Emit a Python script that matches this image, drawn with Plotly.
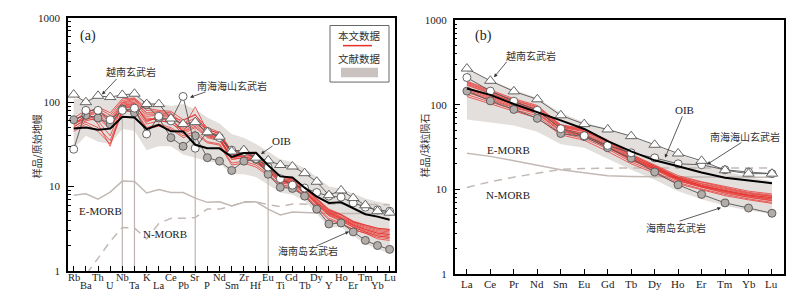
import math
import plotly.graph_objects as go

W, H = 800, 290

# ---------------- Panel (a): primitive-mantle normalised spider diagram ----------------
elems_a = ["Rb", "Ba", "Th", "U", "Nb", "Ta", "K", "La", "Ce", "Pb", "Sr", "P", "Nd", "Sm",
           "Zr", "Hf", "Eu", "Ti", "Gd", "Tb", "Dy", "Y", "Ho", "Er", "Tm", "Yb", "Lu"]

oib_a = [48.8, 50.1, 47.1, 48.6, 67.3, 65.9, 48.0, 53.9, 45.1, 45.0, 31.3, 28.4, 28.4, 22.5,
         25.0, 25.2, 17.9, 13.2, 12.8, 9.7, 7.6, 6.4, 6.5, 5.5, 4.7, 4.4, 4.05]
emorb_a = [7.9, 8.2, 7.1, 8.6, 11.6, 11.5, 8.4, 9.2, 8.5, 8.5, 7.3, 6.5, 6.6, 5.9,
           6.5, 6.6, 5.4, 4.6, 5.0, 4.9, 4.8, 4.8, 4.8, 4.8, 4.8, 4.8, 4.8]
nmorb_a = [0.88, 0.90, 1.41, 2.24, 3.27, 3.22, 2.4, 3.64, 4.2, 4.2, 4.3, 5.4, 5.4, 5.9,
           6.6, 6.6, 6.1, 5.8, 6.2, 6.2, 6.2, 6.2, 6.2, 6.2, 6.2, 6.2, 6.1]
vietnam_a = [123, 100, 119, 115, 122, 126, 95, 95, 64, 55, 58, 44, 39, 26,
             27, 22, 20.4, 18, 17.3, 14.4, 11.4, 7.9, 9.0, 7.3, 6.0, 5.1, 4.9]
scs_a = [27.7, 80, 80, 62, 80, 85, 42, 68, 60, 117, 28.5, 45, 38, 27,
         26, 21.5, 17, 12.4, 10.4, 9.6, 8.5, 7.7, 7.5, 6.4, 5.7, 5.3, 5.1]
hainan_a = [62, 70, 65, 55, 83, 75, 93, 65, 38, 30, 40, 22, 20, 15.5,
            20, 21, 14, 9.8, 9.5, 7.7, 5.4, 3.6, 3.7, 2.9, 2.3, 2.0, 1.8]
env_hi_a = [110, 108, 112, 105, 115, 122, 100, 97, 90, 95, 82, 66, 56, 42,
            38, 32, 26, 21, 19.5, 16.5, 13, 10, 9.5, 8.2, 7.2, 6.6, 6.2]
env_lo_a = [28, 40, 34, 32, 48, 46, 27, 30, 30, 24, 22, 20, 19, 14,
            14, 13, 10.5, 8.5, 8.0, 6.8, 4.8, 3.3, 3.3, 2.6, 2.1, 1.8, 1.6]
red_a = [
    [60, 75, 85, 70, 105, 110, 80, 78, 75, 55, 65, 48, 42, 25, 26, 22, 17, 12.5, 12, 9.5, 7.0, 5.2, 4.6, 3.8, 3.4, 3.1, 3.0],
    [55, 70, 78, 60, 98, 104, 72, 72, 70, 50, 88, 45, 40, 24, 25, 21, 16, 12, 11.5, 9.0, 6.6, 5.0, 4.3, 3.6, 3.2, 2.9, 2.8],
    [50, 65, 60, 40, 90, 95, 60, 65, 62, 45, 55, 40, 37, 22, 23, 20, 15.5, 11.5, 11, 8.6, 6.3, 4.7, 4.1, 3.4, 3.0, 2.7, 2.6],
    [65, 80, 55, 30, 85, 88, 55, 60, 58, 42, 50, 38, 35, 21, 22, 19, 15, 11, 10.5, 8.3, 6.1, 4.5, 3.9, 3.3, 2.9, 2.6, 2.5],
    [58, 62, 70, 55, 95, 100, 68, 70, 68, 60, 72, 44, 41, 24, 25, 21.5, 16.5, 12.2, 11.8, 9.2, 6.8, 5.1, 4.4, 3.7, 3.3, 3.0, 2.9],
    [48, 58, 50, 35, 80, 82, 50, 55, 50, 40, 45, 34, 32, 19, 20, 18, 14, 10.5, 10, 8.0, 5.8, 4.2, 3.7, 3.1, 2.8, 2.5, 2.4],
    [62, 72, 80, 65, 100, 108, 75, 75, 72, 52, 60, 47, 43, 26, 27, 23, 17.5, 13, 12.3, 9.6, 7.1, 5.3, 4.6, 3.8, 3.5, 3.2, 3.1],
    [52, 60, 65, 48, 88, 92, 62, 64, 60, 48, 58, 42, 38, 22, 23, 20, 15.8, 11.6, 11.2, 8.8, 6.4, 4.8, 4.2, 3.5, 3.1, 2.8, 2.7],
    [56, 68, 75, 58, 92, 97, 58, 68, 66, 44, 52, 39, 36, 21, 22, 19.5, 15.2, 11.2, 10.8, 8.5, 6.2, 4.6, 4.0, 3.3, 2.9, 2.6, 2.5],
    [45, 55, 45, 32, 76, 80, 48, 52, 48, 38, 42, 33, 31, 18, 19, 17, 13.5, 10, 9.8, 7.8, 5.6, 4.0, 3.6, 3.1, 2.8, 2.4, 2.3],
    [60, 72, 88, 75, 110, 112, 85, 80, 78, 62, 70, 50, 44, 26, 27, 24, 18, 13, 12.5, 9.8, 7.2, 5.4, 4.7, 3.9, 3.5, 3.2, 3.1],
    [54, 66, 68, 50, 86, 90, 65, 62, 56, 46, 62, 41, 37, 22, 24, 20.5, 16, 11.8, 11.3, 8.9, 6.5, 4.9, 4.2, 3.5, 3.1, 2.8, 2.7],
]
anom_elems = ["Nb", "Ta", "Sr", "Eu"]
anom_tops = [80, 80, 60, 16]

# ---------------- Panel (b): chondrite-normalised REE ----------------
elems_b = ["La", "Ce", "Pr", "Nd", "Sm", "Eu", "Gd", "Tb", "Dy", "Ho", "Er", "Tm", "Yb", "Lu"]
oib_b = [156, 131, 102, 82.4, 65.4, 51.7, 37.1, 28.1, 22.0, 18.7, 15.8, 13.7, 12.7, 11.8]
emorb_b = [26.6, 24.5, 21.8, 19.3, 17.0, 15.7, 14.5, 14.2, 14.0, 14.0, 14.0, 14.0, 13.9, 13.9]
nmorb_b = [10.5, 12.3, 13.9, 15.6, 17.2, 17.6, 17.9, 17.9, 17.9, 17.8, 17.9, 17.9, 17.9, 17.9]
vietnam_b = [268, 192, 144, 116, 75, 59, 51, 42.5, 33.6, 26.5, 21.7, 16.8, 15.3, 15.3]
scs_b = [210, 145, 110, 86, 52, 43, 33, 27, 23.5, 20, 19.5, 17, 16, 15.3]
hainan_b = [145, 111, 88, 69, 45.7, 42, 31, 23.3, 16, 11.3, 8.7, 6.9, 6.0, 5.2]
env_hi_b = [262, 195, 150, 120, 80, 62, 52, 42, 33, 26, 21, 16.5, 14, 12.5]
env_lo_b = [67, 62, 57, 48, 34, 31, 23, 17, 13, 9.5, 7.6, 6.4, 5.6, 5.1]
red_b = [
    [190, 150, 118, 98, 58, 52, 38, 26, 19.5, 14.5, 12.3, 10.8, 9.5, 8.8],
    [180, 142, 112, 93, 56, 50, 37, 25, 19, 14, 12, 10.5, 9.2, 8.5],
    [170, 135, 108, 90, 54, 48, 35, 24, 18.5, 13.7, 11.5, 10, 8.8, 8.2],
    [160, 128, 102, 86, 52, 46, 34, 23.5, 18, 13.3, 11.2, 9.7, 8.6, 7.9],
    [150, 120, 97, 82, 50, 44, 32, 22.5, 17.5, 13, 10.8, 9.4, 8.3, 7.6],
    [140, 114, 92, 78, 48, 42, 31, 22, 17, 12.5, 10.5, 9.0, 8.0, 7.3],
    [132, 108, 88, 74, 46, 40, 30, 21, 16.2, 12, 10.1, 8.7, 7.7, 7.0],
    [125, 102, 84, 70, 44, 38, 28, 20, 15.5, 11.6, 9.8, 8.4, 7.5, 6.8],
    [175, 138, 106, 88, 55, 49, 36, 24.5, 18, 13.5, 11, 9.6, 8.5, 8.0],
    [155, 124, 100, 84, 53, 45, 33, 23, 17.8, 13.2, 11, 9.5, 8.4, 7.7],
    [145, 117, 94, 80, 49, 43, 32, 22.2, 17.3, 12.8, 10.6, 9.2, 8.1, 7.4],
    [185, 146, 114, 95, 57, 51, 37.5, 25.5, 18.8, 13.8, 11.7, 10.2, 9.0, 8.3],
]

# ---------------- styles ----------------
SERIF = "Liberation Serif"
CJK = "Noto Sans CJK SC"
RED = "rgba(232,40,36,0.8)"
ENV = "#e3dfdd"
MORB = "#c2b9b5"
SYMLINE = "#555555"

fig = go.Figure()


def px(x):
    return x / W


def py(y):
    return 1 - y / H


def add_panel(elems, oib, emorb, nmorb, vn, scs, hn, hi, lo, reds, xa, ya, anom=None):
    idx = list(range(len(elems)))
    fig.add_trace(go.Scatter(x=idx + idx[::-1], y=hi + lo[::-1], fill="toself", fillcolor=ENV,
                             line=dict(width=0), mode="lines", hoverinfo="skip",
                             xaxis=xa, yaxis=ya, showlegend=False))
    if anom:
        for el, top in zip(*anom):
            i = elems.index(el)
            fig.add_trace(go.Scatter(x=[i, i], y=[1, top], mode="lines",
                                     line=dict(color="#bdb5b1", width=1.2),
                                     xaxis=xa, yaxis=ya, showlegend=False, hoverinfo="skip"))
    fig.add_trace(go.Scatter(x=idx, y=emorb, mode="lines", line=dict(color=MORB, width=1.5),
                             xaxis=xa, yaxis=ya, showlegend=False))
    fig.add_trace(go.Scatter(x=idx, y=nmorb, mode="lines",
                             line=dict(color=MORB, width=1.5, dash="8px,6px"),
                             xaxis=xa, yaxis=ya, showlegend=False))
    for r in reds:
        fig.add_trace(go.Scatter(x=idx, y=r, mode="lines", line=dict(color=RED, width=0.9),
                                 xaxis=xa, yaxis=ya, showlegend=False))
    fig.add_trace(go.Scatter(x=idx, y=hn, mode="lines+markers",
                             line=dict(color=SYMLINE, width=0.9),
                             marker=dict(symbol="circle", size=8, color="#b3ada9",
                                         line=dict(color="#555", width=0.9)),
                             xaxis=xa, yaxis=ya, showlegend=False))
    fig.add_trace(go.Scatter(x=idx, y=scs, mode="lines+markers",
                             line=dict(color=SYMLINE, width=0.9),
                             marker=dict(symbol="circle", size=8, color="white",
                                         line=dict(color="#555", width=0.9)),
                             xaxis=xa, yaxis=ya, showlegend=False))
    fig.add_trace(go.Scatter(x=idx, y=vn, mode="lines+markers",
                             line=dict(color=SYMLINE, width=0.9),
                             marker=dict(symbol="triangle-up", size=10, color="white",
                                         line=dict(color="#555", width=0.9)),
                             xaxis=xa, yaxis=ya, showlegend=False))
    fig.add_trace(go.Scatter(x=idx, y=oib, mode="lines", line=dict(color="black", width=2),
                             xaxis=xa, yaxis=ya, showlegend=False))


add_panel(elems_a, oib_a, emorb_a, nmorb_a, vietnam_a, scs_a, hainan_a, env_hi_a, env_lo_a,
          red_a, "x", "y", anom=(anom_elems, anom_tops))
add_panel(elems_b, oib_b, emorb_b, nmorb_b, vietnam_b, scs_b, hainan_b, env_hi_b, env_lo_b,
          red_b, "x2", "y2")

minor_vals = [m * 10 ** d for d in range(3) for m in range(2, 10)]

xcommon = dict(showline=True, linecolor="black", linewidth=1.5, mirror=True,
               ticks="inside", ticklen=5, tickcolor="black", tickwidth=1.2,
               showticklabels=False, showgrid=False, zeroline=False)
ycommon = dict(type="log", range=[0, 3], showline=True, linecolor="black", linewidth=1.5,
               mirror=True, ticks="inside", ticklen=6, tickcolor="black", tickwidth=1.2,
               tickvals=[1, 10, 100, 1000], ticktext=["1", "10", "100", "1000"],
               tickfont=dict(family=SERIF, size=11, color="#222"), ticklabelstandoff=4,
               minor=dict(ticks="inside", ticklen=3, tickcolor="black", tickwidth=1,
                          tickvals=minor_vals, showgrid=False),
               showgrid=False, zeroline=False)

fig.update_layout(
    width=W, height=H, margin=dict(l=0, r=0, t=0, b=0),
    paper_bgcolor="white", plot_bgcolor="white", showlegend=False,
    font=dict(family=SERIF),
    xaxis=dict(domain=[px(60), px(387)], range=[-0.47, 26.44],
               tickvals=list(range(len(elems_a))), **xcommon),
    yaxis=dict(domain=[py(268), py(4)], anchor="x", **ycommon),
    xaxis2=dict(domain=[px(446.7), px(775.7)], range=[-0.52, 13.5], anchor="y2",
                tickvals=list(range(len(elems_b))), **xcommon),
    yaxis2=dict(domain=[py(271), py(6.5)], anchor="x2", **ycommon),
)

ann = []
for i, el in enumerate(elems_a):
    if i % 2 == 0:
        ann.append(dict(x=i, xref="x", y=py(281.5), yref="paper", text=el, showarrow=False,
                        yanchor="bottom", borderpad=0,
                        font=dict(family=SERIF, size=10.5, color="#222")))
    else:
        ann.append(dict(x=i, xref="x", y=0, yref="paper", text=el, showarrow=False,
                        yanchor="bottom", borderpad=0,
                        font=dict(family=SERIF, size=10.5, color="#222")))
for i, el in enumerate(elems_b):
    ann.append(dict(x=i, xref="x2", y=py(282), yref="paper",
                    text=el, showarrow=False, yanchor="middle",
                    font=dict(family=SERIF, size=11, color="#222")))


def txt(x, y, s, font=CJK, size=10, color="#333", angle=0):
    ann.append(dict(x=px(x), y=py(y), xref="paper", yref="paper", text=s, showarrow=False,
                    xanchor="center", yanchor="middle", textangle=angle,
                    font=dict(family=font, size=size, color=color)))


def arrow(x0, y0, x1, y1):
    ann.append(dict(x=px(x1), y=py(y1), xref="paper", yref="paper",
                    ax=x0 - x1, ay=y0 - y1, axref="pixel", ayref="pixel",
                    text="", showarrow=True, arrowhead=2,
                    arrowsize=0.9, arrowwidth=0.8, arrowcolor="#333"))


txt(80, 23, "(a)", font=SERIF, size=14, color="#222")
txt(28, 138, "样品/原始地幔", size=10, angle=-90)
txt(123, 60, "越南玄武岩")
arrow(110, 67, 94, 84)
txt(224, 75, "南海海山玄武岩")
arrow(199, 81, 182, 87)
txt(273, 132, "OIB", font=SERIF, size=11, color="#222")
arrow(266, 137, 253, 146)
txt(92, 206, "E-MORB", font=SERIF, size=11, color="#222")
txt(157, 229, "N-MORB", font=SERIF, size=11, color="#222")
txt(300, 247, "海南岛玄武岩")
arrow(307, 242, 341, 227)
txt(351, 22.5, "本文数据", size=10.5)
txt(351, 46, "文献数据", size=10.5)

txt(475, 23, "(b)", font=SERIF, size=14, color="#222")
txt(416, 137, "样品/球粒陨石", size=10, angle=-90)
txt(523, 43, "越南玄武岩")
arrow(500, 49, 486, 66)
txt(676, 100, "OIB", font=SERIF, size=11, color="#222")
arrow(675, 107, 657, 150)
txt(737, 128, "南海海山玄武岩")
arrow(735, 134, 699, 157)
txt(500, 142, "E-MORB", font=SERIF, size=11, color="#222")
txt(500, 189, "N-MORB", font=SERIF, size=11, color="#222")
txt(668, 223, "海南岛玄武岩")
arrow(670, 216, 713, 202)

fig.update_layout(annotations=ann)

shapes = [
    dict(type="rect", xref="paper", yref="paper", x0=px(322), x1=px(381), y0=py(71), y1=py(12),
         line=dict(color="#666", width=1), fillcolor="rgba(255,255,255,0)"),
    dict(type="line", xref="paper", yref="paper", x0=px(335), x1=px(364), y0=py(33), y1=py(33),
         line=dict(color="#e8302a", width=1.5)),
    dict(type="rect", xref="paper", yref="paper", x0=px(333), x1=px(370), y0=py(66), y1=py(56),
         line=dict(width=0), fillcolor="#c9c2be"),
]
fig.update_layout(shapes=shapes)

fig.write_html("out.html")
